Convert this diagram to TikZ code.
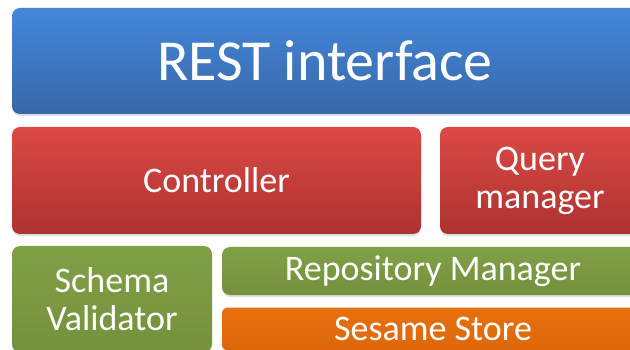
\documentclass[tikz,border=0pt]{standalone}
\usepackage{fontspec}
\setmainfont{Carlito}
\usetikzlibrary{shadows}
\definecolor{restblue}{RGB}{68,135,218}
\definecolor{restbluedark}{RGB}{55,104,168}
\definecolor{ctrlred}{RGB}{219,73,69}
\definecolor{ctrlreddark}{RGB}{173,50,48}
\definecolor{repogreen}{RGB}{128,160,70}
\definecolor{repogreendark}{RGB}{116,145,60}
\definecolor{storeorange}{RGB}{230,112,14}
\definecolor{storeorangedark}{RGB}{222,104,8}

\begin{document}
\begin{tikzpicture}[x=1pt,y=-1pt,
  layer/.style={rounded corners=8pt, inner sep=0pt, text=white, align=center,
    drop shadow={opacity=0.25,shadow xshift=0pt,shadow yshift=-2pt},
    font=\fontsize{36}{38}\selectfont}]
\useasboundingbox (0,0) rectangle (630,350);
\clip (0,0) rectangle (630,350);

% top layer
\node[layer, top color=restblue, bottom color=restbluedark, minimum width=626pt, minimum height=106pt,
  font=\fontsize{58}{60}\selectfont] (rest) at (325,61) {REST interface};

% middle layer
\node[layer, top color=ctrlred, bottom color=ctrlreddark, minimum width=409pt, minimum height=107pt] (controller) at (216.5,180.5) {Controller};
\node[layer, top color=ctrlred, bottom color=ctrlreddark, minimum width=200pt, minimum height=107pt] (query) at (540,180.5) {Query\\manager};

% bottom layer
\node[layer, top color=repogreen, bottom color=repogreendark, minimum width=200pt, minimum height=106pt] (schema) at (112,299) {Schema\\Validator};
\node[layer, top color=repogreen, bottom color=repogreendark, minimum width=422pt, minimum height=48pt] (repo) at (433,271) {Repository Manager};
\node[layer, rounded corners=6pt, top color=storeorange, bottom color=storeorangedark, minimum width=422pt, minimum height=43pt] (store) at (433,329) {Sesame Store};

\end{tikzpicture}
\end{document}
